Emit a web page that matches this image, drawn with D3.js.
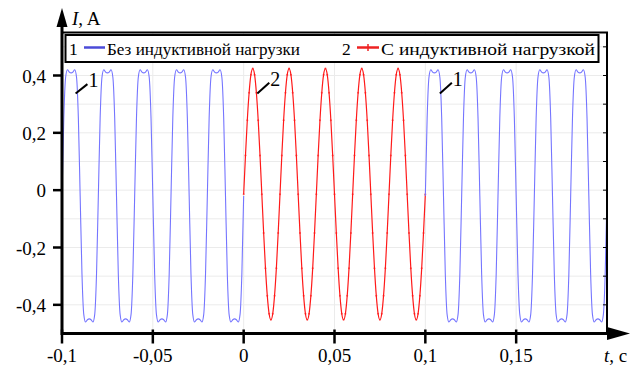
<!DOCTYPE html>
<html>
<head>
<meta charset="utf-8">
<script src="https://cdn.jsdelivr.net/npm/d3@7"></script>
<style>
  body { margin: 0; background: #fff; }
</style>
</head>
<body>
<div id="viz-container"></div>
<script>
// one period (20 ms), 1 ms steps
const period = 0.02;
const samplesPerPeriod = 20;
const blueCycle = [-0.02, 0.253, 0.394, 0.42, 0.412, 0.409, 0.412, 0.42, 0.394, 0.253,
                   -0.02, -0.293, -0.434, -0.46, -0.452, -0.449, -0.452, -0.46, -0.434, -0.293];
const redCycle = [-0.014, 0.121, 0.244, 0.34, 0.403, 0.424, 0.403, 0.34, 0.244, 0.121,
                  -0.014, -0.149, -0.272, -0.368, -0.431, -0.452, -0.431, -0.368, -0.272, -0.149];
// time ranges of each piece
const segments = [
  {name: "1", start: -0.1, end: 0, cycle: blueCycle},
  {name: "2", start: 0, end: 0.1, cycle: redCycle},
  {name: "1", start: 0.1, end: 0.2, cycle: blueCycle}
];
const xTicks = [-0.1, -0.05, 0, 0.05, 0.1, 0.15];
const xTickLabels = ["-0,1", "-0,05", "0", "0,05", "0,1", "0,15"];
const yTicks = [0.4, 0.2, 0, -0.2, -0.4];
const yTickLabels = ["0,4", "0,2", "0", "-0,2", "-0,4"];
const yMinor = [-0.4, -0.3, -0.2, -0.1, 0, 0.1, 0.2, 0.3, 0.4, 0.5];
const legendNames = ["Без индуктивной нагрузки", "С индуктивной нагрузкой"];
const callouts = [
  {label: "1", t: -0.0925, v: 0.337, t2: -0.086, v2: 0.37},
  {label: "2", t: 0.0075, v: 0.337, t2: 0.0141, v2: 0.375},
  {label: "1", t: 0.108, v: 0.337, t2: 0.1146, v2: 0.375}
];

const W = 630, H = 369;
const blue = "#7575ff", red = "#ff1a1a";
const font = "'Liberation Serif', 'Liberation Sans', sans-serif";

let viz = d3.select("#viz-container")
  .append("svg")
    .attr("width", W)
    .attr("height", H)
    .style("font-family", font);

let x = d3.scaleLinear().domain([-0.1, 0.2]).range([62, 607]);
let y = d3.scaleLinear().domain([-0.5, 0.55]).range([333.5, 32.5]);

// grid
viz.selectAll(".hgrid").data(yMinor).enter().append("line")
  .attr("x1", x(-0.1)).attr("x2", x(0.2))
  .attr("y1", d => y(d)).attr("y2", d => y(d))
  .attr("stroke", "#ebebeb").attr("stroke-width", 1);
viz.selectAll(".vgrid").data(xTicks.slice(1)).enter().append("line")
  .attr("x1", d => x(d)).attr("x2", d => x(d))
  .attr("y1", y(-0.5)).attr("y2", y(0.55))
  .attr("stroke", "#ebebeb").attr("stroke-width", 1);

// build points of each piece from the cycle table
function piecePoints(s) {
  let pts = [];
  let n = Math.round((s.end - s.start) / period * samplesPerPeriod);
  for (let k = 0; k <= n; k++) {
    let t = s.start + k * period / samplesPerPeriod;
    let idx = Math.round((t + 0.1) / period * samplesPerPeriod) % samplesPerPeriod;
    pts.push([t, s.cycle[idx]]);
  }
  return pts;
}

let line = d3.line().x(d => x(d[0])).y(d => y(d[1])).curve(d3.curveMonotoneX);

viz.append("clipPath").attr("id", "plotclip")
  .append("rect").attr("x", x(-0.1)).attr("y", y(0.55))
  .attr("width", x(0.2) - x(-0.1)).attr("height", y(-0.5) - y(0.55));

let plot = viz.append("g").attr("clip-path", "url(#plotclip)");

segments.forEach(s => {
  let pts = piecePoints(s);
  let col = s.name == "1" ? blue : red;
  plot.append("path").datum(pts)
    .attr("d", line)
    .attr("fill", "none")
    .attr("stroke", col)
    .attr("stroke-width", s.name == "1" ? 1.1 : 1.2);
  if (s.name == "2") {
    plot.selectAll(".dot" + s.start).data(pts).enter().append("circle")
      .attr("cx", d => x(d[0])).attr("cy", d => y(d[1]))
      .attr("r", 1).attr("fill", red).attr("opacity", 0.7);
  }
});

// frame top/right
viz.append("line").attr("x1", x(-0.1)).attr("x2", x(0.2) + 1).attr("y1", y(0.55)).attr("y2", y(0.55))
  .attr("stroke", "#000").attr("stroke-width", 2);
viz.append("line").attr("x1", x(0.2)).attr("x2", x(0.2)).attr("y1", y(0.55)).attr("y2", y(-0.5))
  .attr("stroke", "#000").attr("stroke-width", 2);
viz.selectAll(".rtick").data(yMinor).enter().append("line")
  .attr("x1", x(0.2) - 4).attr("x2", x(0.2))
  .attr("y1", d => y(d)).attr("y2", d => y(d))
  .attr("stroke", "#000").attr("stroke-width", 1);

// axes with arrows
viz.append("line").attr("x1", x(-0.1)).attr("x2", 612).attr("y1", y(-0.5)).attr("y2", y(-0.5))
  .attr("stroke", "#000").attr("stroke-width", 3);
viz.append("polygon").attr("points", "630," + y(-0.5) + " 607," + (y(-0.5) - 6.5) + " 607," + (y(-0.5) + 6.5))
  .attr("fill", "#000");
viz.append("line").attr("x1", x(-0.1)).attr("x2", x(-0.1)).attr("y1", y(-0.5) + 1.5).attr("y2", 22)
  .attr("stroke", "#000").attr("stroke-width", 3);
viz.append("polygon").attr("points", x(-0.1) + ",8 " + (x(-0.1) - 5.5) + ",27 " + (x(-0.1) + 5.5) + ",27")
  .attr("fill", "#000");

// x ticks and labels
viz.selectAll(".xtick").data(xTicks).enter().append("line")
  .attr("x1", d => x(d)).attr("x2", d => x(d))
  .attr("y1", y(-0.5) - 4).attr("y2", y(-0.5) + 10)
  .attr("stroke", "#000").attr("stroke-width", 2.5);
viz.selectAll(".xlab").data(xTicks).enter().append("text")
  .attr("x", d => x(d)).attr("y", 362)
  .attr("text-anchor", "middle").attr("font-size", 19)
  .text((d, i) => xTickLabels[i]);

// y ticks and labels
viz.selectAll(".ylab").data(yTicks).enter().append("text")
  .attr("x", 46).attr("y", d => y(d) + 7)
  .attr("text-anchor", "end").attr("font-size", 19)
  .text((d, i) => yTickLabels[i]);
viz.selectAll(".ytick").data(yTicks).enter().append("line")
  .attr("x1", x(-0.1) - 9).attr("x2", x(-0.1))
  .attr("y1", d => y(d)).attr("y2", d => y(d))
  .attr("stroke", "#000").attr("stroke-width", 2.5);

// axis titles
let yt = viz.append("text").attr("x", 72).attr("y", 25).attr("font-size", 19);
yt.append("tspan").attr("font-style", "italic").text("I");
yt.append("tspan").text(", A");
let xt = viz.append("text").attr("x", 604).attr("y", 362).attr("font-size", 19);
xt.append("tspan").attr("font-style", "italic").text("t");
xt.append("tspan").text(", c");

// callouts
callouts.forEach(c => {
  viz.append("line")
    .attr("x1", x(c.t)).attr("y1", y(c.v)).attr("x2", x(c.t2)).attr("y2", y(c.v2))
    .attr("stroke", "#000").attr("stroke-width", 2);
  viz.append("text").attr("x", x(c.t2) + 1).attr("y", y(c.v2) + 3)
    .attr("font-size", 20).text(c.label);
});

// legend
let lg = viz.append("g");
lg.append("rect").attr("x", 65.5).attr("y", 35).attr("width", 533).attr("height", 27)
  .attr("fill", "#fff").attr("stroke", "#000").attr("stroke-width", 2);
lg.append("text").attr("x", 69).attr("y", 55).attr("font-size", 17.5).text("1");
lg.append("line").attr("x1", 84).attr("x2", 105).attr("y1", 47.5).attr("y2", 47.5)
  .attr("stroke", "#4b4bd8").attr("stroke-width", 2.5);
lg.append("text").attr("x", 107).attr("y", 55).attr("font-size", 17.5)
  .attr("textLength", 193).attr("lengthAdjust", "spacingAndGlyphs").text(legendNames[0]);
lg.append("text").attr("x", 342).attr("y", 55).attr("font-size", 17.5).text("2");
lg.append("line").attr("x1", 357).attr("x2", 379).attr("y1", 47.5).attr("y2", 47.5)
  .attr("stroke", "#e22").attr("stroke-width", 2.5);
lg.append("line").attr("x1", 368).attr("x2", 368).attr("y1", 44).attr("y2", 51)
  .attr("stroke", "#e22").attr("stroke-width", 1.5);
lg.append("text").attr("x", 381).attr("y", 55).attr("font-size", 17.5)
  .attr("textLength", 214).attr("lengthAdjust", "spacingAndGlyphs").text(legendNames[1]);
</script>
</body>
</html>
